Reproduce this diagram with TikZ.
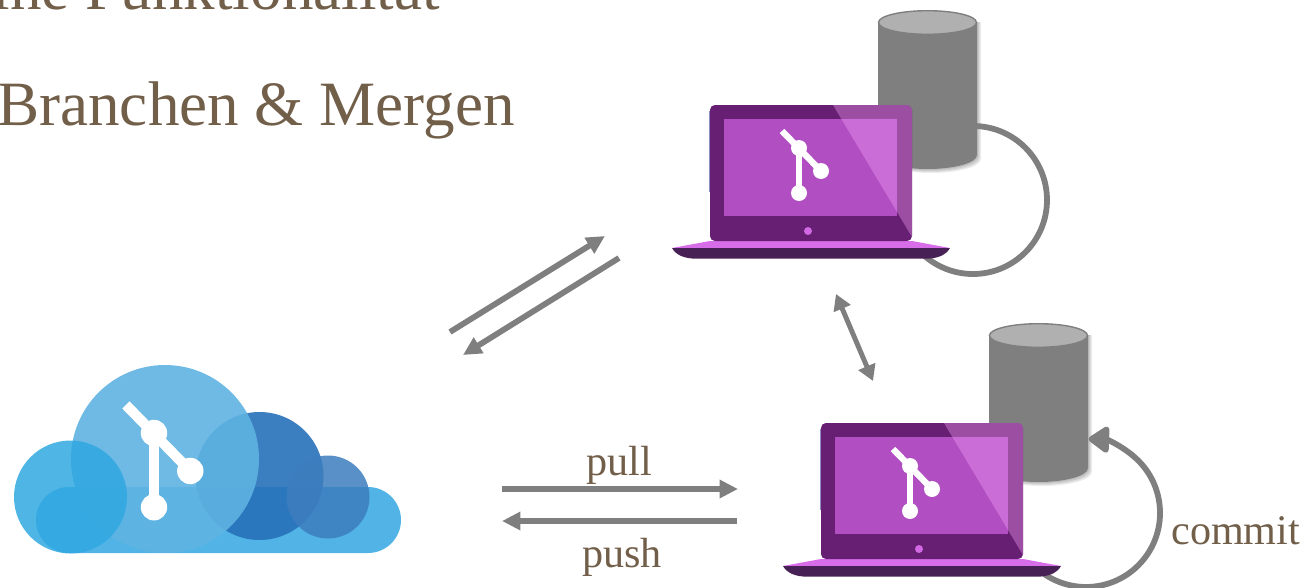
\documentclass[tikz,border=0pt]{standalone}
\usepackage{fontspec}
\setmainfont{Liberation Serif}
\usetikzlibrary{arrows.meta}
\definecolor{txtbrown}{HTML}{725F4A}
\definecolor{arrowgray}{HTML}{7F7F7F}
\definecolor{lapbody}{HTML}{671F73}
\definecolor{lapscreen}{HTML}{B04EC2}
\definecolor{lapdeck}{HTML}{D86DEA}
\definecolor{lapfoot}{HTML}{472055}
\definecolor{lapglare}{HTML}{FFA8FF}
\definecolor{cloudbase}{HTML}{52B3E6}
\definecolor{clouddark}{HTML}{2671BA}
\definecolor{cloudsmall}{HTML}{3D7DBE}
\definecolor{cloudbig}{HTML}{5FB3E2}
\definecolor{cloudleft}{HTML}{30A8E1}
\newcommand{\gitglyph}[5]{%
  \begin{scope}[shift={(#1,#2)}, scale=#3]
    \draw[white, line width=#4] (-17,-17) -- (22,23);
    \draw[white, line width=#5] (0,0) -- (0,45);
    \fill[white] (0,0) circle (8);
    \fill[white] (22,23) circle (8);
    \fill[white] (0,45) circle (8);
  \end{scope}}
\newcommand{\laptopicon}[2]{%
  \begin{scope}[shift={(#1,#2)}]
    \fill[lapdeck] (-38,143) -- (0,136) -- (202,136) -- (240,143) -- cycle;
    \fill[lapfoot] (-38,143) -- (240,143) .. controls (236,150) and (228,153.7) .. (215,153.7)
      -- (-13,153.7) .. controls (-26,153.7) and (-34,150) .. (-38,143) -- cycle;
    \draw[blue!30!gray!70, line width=0.5pt] (-0.5,6) -- (-0.5,87);
    \fill[lapbody, rounded corners=2.8pt] (0,0) rectangle (202,136);
    \fill[lapscreen] (14,14) rectangle (187,111);
    \fill[lapdeck!85!lapscreen] (98,126) circle (4);
    \begin{scope}
      \clip[rounded corners=2.8pt] (0,0) rectangle (202,136);
      \fill[lapglare, opacity=0.35] (123,0) -- (202,0) -- (202,132) -- cycle;
    \end{scope}
    \gitglyph{89}{43}{1}{3.6pt}{2.9pt}
  \end{scope}}
\newcommand{\cylinder}[2]{%
  \begin{scope}[shift={(#1,#2)}]
    % soft shadow
    \foreach \d in {1,2,3,4}
      \fill[black, opacity=0.07] (\d,12) -- (\d,145+\d) arc[start angle=180, end angle=0, x radius=49.5, y radius=14]
        -- (99+\d,12) -- cycle;
    \fill[arrowgray] (0,12) -- (0,145) arc[start angle=180, end angle=0, x radius=49.5, y radius=14]
      -- (99,12) -- cycle;
    \draw[arrowgray, fill=gray!62, line width=0.8pt] (49.5,12.5) ellipse [x radius=49, y radius=11.8];
  \end{scope}}
\tikzset{
  flow/.style={draw=arrowgray, line width=3.3pt, -{Triangle[length=10.5pt,width=10pt]}},
  sync/.style={draw=arrowgray, line width=2.8pt, {Triangle[length=9pt,width=10pt]}-{Triangle[length=9pt,width=10pt]}},
  loopflow/.style={draw=arrowgray, line width=3.3pt},
  lbl/.style={text=txtbrown, font=\fontsize{24}{28}\selectfont, inner sep=0pt, anchor=base},
  head/.style={text=txtbrown, font=\fontsize{35.9}{42}\selectfont, inner sep=0pt}
}

\begin{document}
\begin{tikzpicture}[x=0.2mm, y=-0.2mm]
  \useasboundingbox (0,0) rectangle (1313,588);

  % Heading lines
  \node[head, anchor=base east] (funk) at (440,9.5) {eine Funktionalität};
  \node[head, anchor=base west] (branch) at (-3,125) {Branchen \& Mergen};

  % Cloud
  \fill[cloudbase] (69,487) -- (368,487) arc[start angle=-90, end angle=90, radius=33]
    -- (69,553) arc[start angle=90, end angle=270, radius=33] -- cycle;
  \fill[clouddark, opacity=0.9] (259.5,476) circle (64);
  \fill[cloudbig, opacity=0.9] (165,459) circle (94);
  \fill[cloudsmall, opacity=0.85] (328,497) circle (41.5);
  \fill[cloudleft, opacity=0.85] (70.5,497) circle (56.5);
  \gitglyph{154}{433}{1.65}{5.8pt}{5.8pt}

  % Upper machine
  \cylinder{878}{10}
  \coordinate (loopAstart) at (973,126);
  \draw[loopflow] (loopAstart) arc[start angle=-90, end angle=135, radius=74];
  \laptopicon{710}{105}

  % Lower machine
  \cylinder{989}{323}
  \coordinate (loopBstart) at (1033.7,565.3);
  \draw[loopflow, -{Triangle[length=13pt,width=17pt,round]}] (loopBstart) arc[start angle=135, end angle=-88, radius=74];
  \laptopicon{821}{423}

  % Arrows between the machines
  \coordinate (diagAa) at (450,332);
  \coordinate (diagAb) at (605,236);
  \coordinate (diagBa) at (619,258);
  \coordinate (diagBb) at (463,355);
  \coordinate (syncA) at (836,294);
  \coordinate (syncB) at (873,381);
  \coordinate (pullA) at (502,489);
  \coordinate (pullB) at (738,489);
  \coordinate (pushA) at (737,521);
  \coordinate (pushB) at (502,521);
  \draw[flow] (diagAa) -- (diagAb);
  \draw[flow] (diagBa) -- (diagBb);
  \draw[sync] (syncA) -- (syncB);
  \draw[flow] (pullA) -- (pullB);
  \draw[flow] (pushA) -- (pushB);

  % Labels
  \node[lbl] (pull) at (619.5,475) {pull};
  \node[lbl] (push) at (622,567) {push};
  \node[lbl, anchor=base west] (commit) at (1171,544) {commit};
\end{tikzpicture}
\end{document}
